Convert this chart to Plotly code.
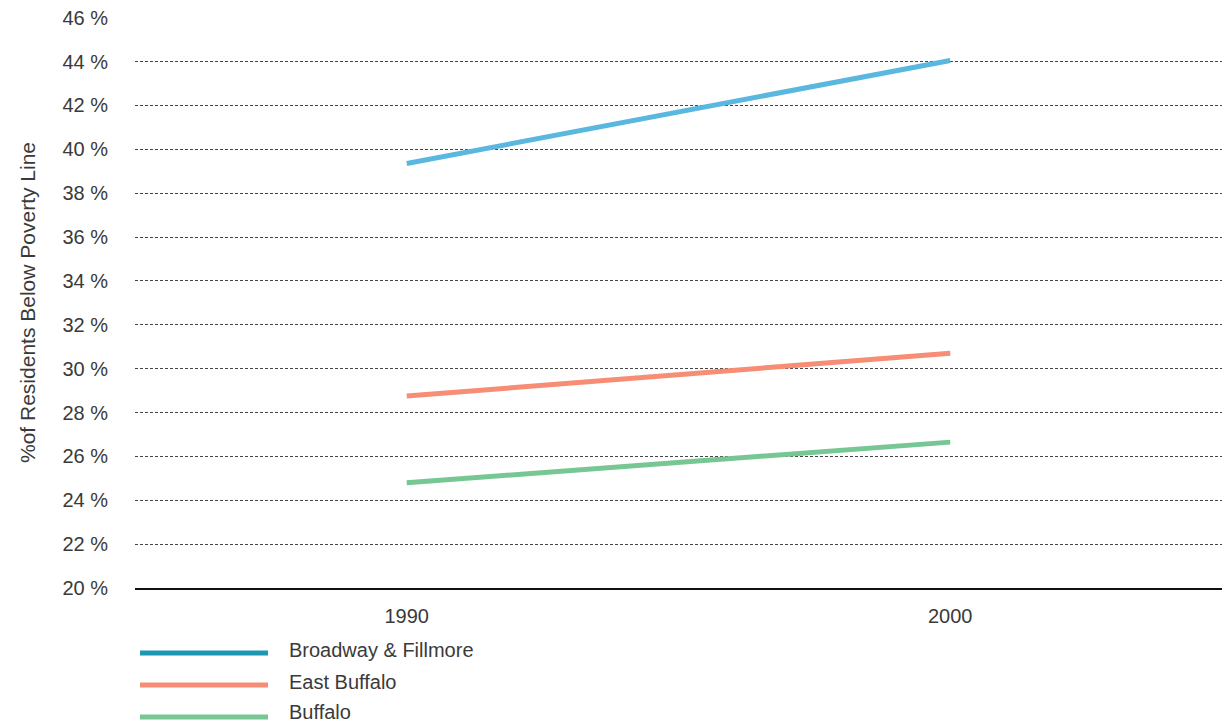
import plotly.graph_objects as go

# Share of residents below the poverty line, by census year
years = [1990, 2000]
series_names = ["Broadway & Fillmore", "East Buffalo", "Buffalo"]
broadway_fillmore = [39.35, 44.05]
east_buffalo = [28.75, 30.7]
buffalo = [24.8, 26.65]
y_ticks = [20, 22, 24, 26, 28, 30, 32, 34, 36, 38, 40, 42, 44, 46]
y_tick_labels = [f"{v} %" for v in y_ticks]

line_colors = ["#5ab7df", "#f68d74", "#76c793"]
legend_colors = ["#1c98b4", "#f68d74", "#76c793"]
values = [broadway_fillmore, east_buffalo, buffalo]

W, H = 1222, 725
M_L, M_R, M_T, M_B = 135, 0, 17, 137
plot_w = W - M_L - M_R
plot_h = H - M_T - M_B

font_family = "Liberation Sans"
font_size = 20
text_color = "#3a3a3a"
base_font = dict(family=font_family, size=font_size, color=text_color)

fig = go.Figure()
for name, vals, col in zip(series_names, values, line_colors):
    fig.add_trace(go.Scatter(
        x=years, y=vals, name=name, mode="lines",
        line=dict(color=col, width=5),
        showlegend=False, hoverinfo="x+y+name",
    ))

# Custom legend below the plot: long stroke followed by the series name
legend_rows_px = [653, 685, 717]
text_rows_px = [650, 682, 712]
for name, col, ly, ty in zip(series_names, legend_colors, legend_rows_px, text_rows_px):
    py = (H - M_B - ly) / plot_h
    fig.add_shape(type="line", xref="paper", yref="paper",
                  x0=(140 - M_L) / plot_w, x1=(268 - M_L) / plot_w,
                  y0=py, y1=py, line=dict(color=col, width=5))
    fig.add_annotation(text=name, xref="paper", yref="paper",
                       x=(287 - M_L) / plot_w, y=(H - M_B - ty) / plot_h,
                       xanchor="left", yanchor="middle", showarrow=False,
                       font=base_font)

fig.update_layout(
    width=W, height=H,
    margin=dict(l=M_L, r=M_R, t=M_T, b=M_B, pad=0),
    paper_bgcolor="white", plot_bgcolor="white",
    font=base_font,
    xaxis=dict(
        range=[1985, 2005], tickvals=years, ticktext=[str(y) for y in years],
        showgrid=False, zeroline=False,
        showline=True, linecolor="#111111", linewidth=1.5,
        ticks="outside", ticklen=9, tickcolor="rgba(0,0,0,0)",
        tickfont=base_font,
    ),
    yaxis=dict(
        range=[20, 46.03], tickvals=y_ticks, ticktext=y_tick_labels,
        showgrid=True, gridcolor="#444444", gridwidth=1, griddash="3px,2px",
        zeroline=False, showline=False,
        ticks="outside", ticklen=22, tickcolor="rgba(0,0,0,0)",
        tickfont=base_font,
        title=dict(text="%of Residents Below Poverty Line", standoff=21,
                   font=dict(family=font_family, size=21, color=text_color)),
    ),
)

fig.write_html("out.html")
